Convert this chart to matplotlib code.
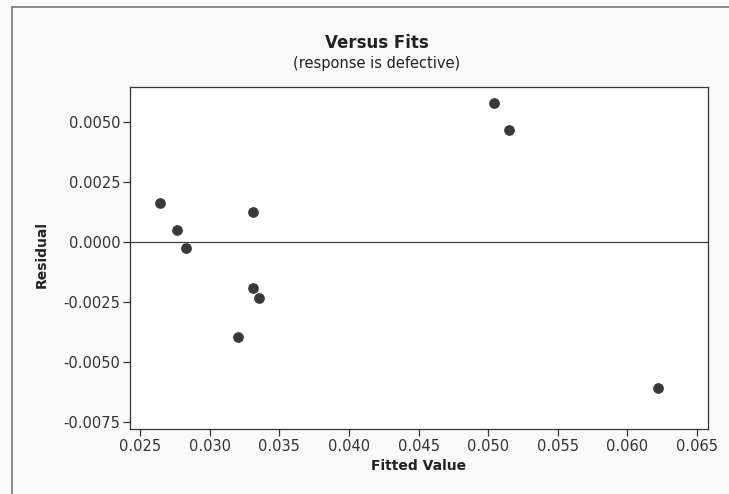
import matplotlib
import matplotlib.pyplot as plt
from matplotlib.lines import Line2D

matplotlib.use('Agg')

# Residuals vs fitted values (response is defective)
fitted = [0.02644, 0.02766, 0.0283, 0.0331, 0.0331, 0.03355, 0.03204, 0.05043, 0.0515, 0.0622]
residual = [0.00163, 0.0005, -0.00025, 0.00125, -0.00192, -0.00233, -0.00396, 0.00579, 0.00467, -0.00608]

x_ticks = [0.025, 0.030, 0.035, 0.040, 0.045, 0.050, 0.055, 0.060, 0.065]
y_ticks = [0.0050, 0.0025, 0.0000, -0.0025, -0.0050, -0.0075]

plt.rcParams['font.family'] = ['DejaVu Sans']

fig = plt.figure(figsize=(7.29, 4.94), dpi=100)
fig.patch.set_facecolor('#f9f9f9')
ax = fig.add_axes([0.1783, 0.1316, 0.7929, 0.6923])
ax.set_facecolor('white')

# outer frame of the graph region (only left and top edges show in the scan)
fig.lines.append(Line2D([0.0165, 0.0165], [0.0, 0.986], transform=fig.transFigure,
                        color='#777777', linewidth=1.2))
fig.lines.append(Line2D([0.0165, 1.0], [0.986, 0.986], transform=fig.transFigure,
                        color='#777777', linewidth=1.2))

ax.scatter(fitted, residual, s=45, color='#3a3a3a', zorder=3)
ax.axhline(0, color='#444444', linewidth=0.9, zorder=2)

ax.set_xlim(0.02428, 0.06579)
ax.set_ylim(-0.00779, 0.00646)
ax.set_xticks(x_ticks)
ax.set_xticklabels(['%.3f' % v for v in x_ticks])
ax.set_yticks(y_ticks)
ax.set_yticklabels(['%.4f' % v for v in y_ticks])
ax.tick_params(direction='out', length=5, width=0.9, colors='#333333', labelsize=10.5, pad=2)

for side in ax.spines.values():
    side.set_color('#333333')
    side.set_linewidth(0.9)

ax.set_xlabel('Fitted Value', fontsize=10, fontweight='bold', color='#222222', labelpad=4)
ax.set_ylabel('Residual', fontsize=10, fontweight='bold', color='#222222')
ax.yaxis.set_label_coords(-0.14, 0.51)

fig.text(0.517, 0.913, 'Versus Fits', ha='center', va='center', fontsize=12,
         fontweight='bold', color='#222222')
fig.text(0.517, 0.871, '(response is defective)', ha='center', va='center', fontsize=10.5,
         color='#222222')

fig.savefig('out.png', dpi=100, facecolor=fig.get_facecolor())
